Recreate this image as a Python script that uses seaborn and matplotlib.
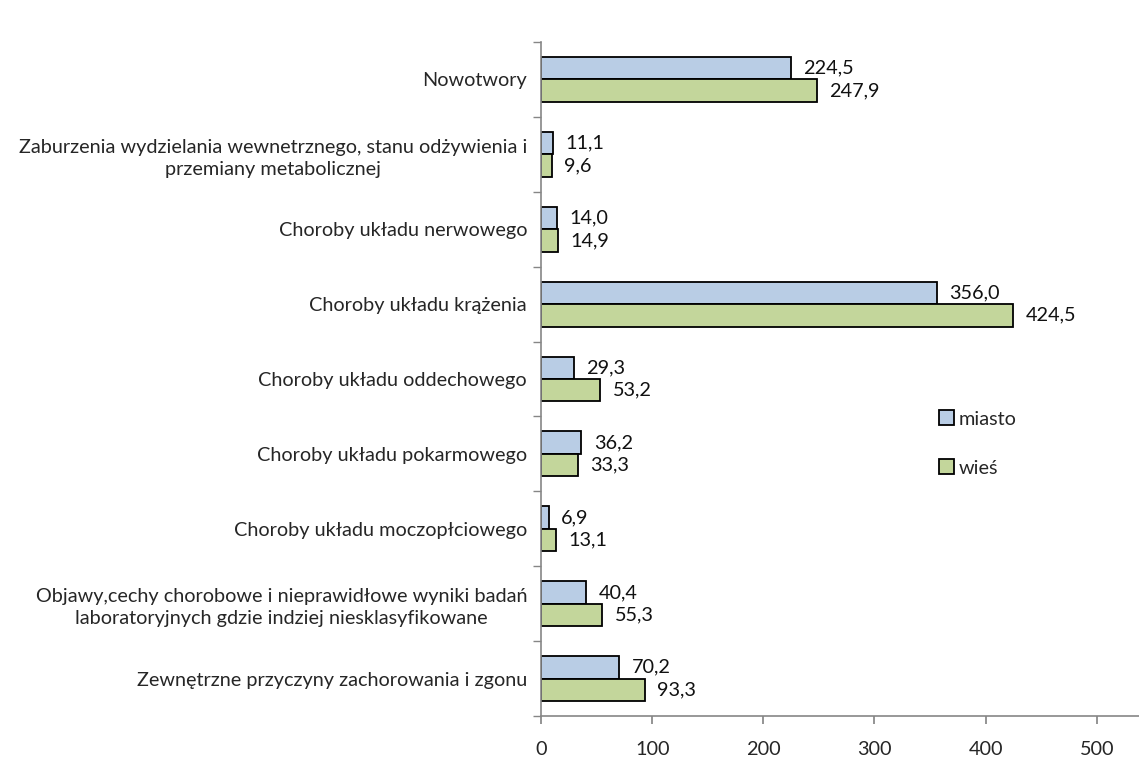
import matplotlib
matplotlib.use("Agg")
import matplotlib.pyplot as plt
import seaborn as sns
import pandas as pd

categories = [
    "Nowotwory",
    "Zaburzenia wydzielania wewnetrznego, stanu odżywienia i\nprzemiany metabolicznej",
    "Choroby układu nerwowego",
    "Choroby układu krążenia",
    "Choroby układu oddechowego",
    "Choroby układu pokarmowego",
    "Choroby układu moczopłciowego",
    "Objawy,cechy chorobowe i nieprawidłowe wyniki badań\nlaboratoryjnych gdzie indziej niesklasyfikowane",
    "Zewnętrzne przyczyny zachorowania i zgonu",
]
miasto = [224.5, 11.1, 14.0, 356.0, 29.3, 36.2, 6.9, 40.4, 70.2]
wies = [247.9, 9.6, 14.9, 424.5, 53.2, 33.3, 13.1, 55.3, 93.3]
series_names = ["miasto", "wieś"]
xticks = [0, 100, 200, 300, 400, 500]

sns.set_theme(style="white")
plt.rcParams['font.family'] = ['Lato', 'DejaVu Sans']
FS = 14.3

df = pd.DataFrame({
    "cat": categories * 2,
    "val": miasto + wies,
    "ser": [series_names[0]] * len(categories) + [series_names[1]] * len(categories),
})

fig = plt.figure(figsize=(11.39, 7.63), dpi=100)
ax = fig.add_axes([541/1139, 1 - 716/763, (1139-541)/1139, (716-42)/763])

sns.barplot(data=df, y="cat", x="val", hue="ser", orient="h", order=categories,
            hue_order=series_names, palette=["#B9CDE5", "#C3D69B"], width=0.6,
            saturation=1, edgecolor="black", linewidth=1.3, ax=ax, errorbar=None)

for cont in ax.containers:
    ax.bar_label(cont, labels=[f"{v:.1f}".replace(".", ",") for v in cont.datavalues],
                 padding=9, fontsize=FS, color="#111111")

ax.set_xlim(0, 538)
ax.set_ylim(len(categories) - 0.5, -0.5)
ax.set_xticks(xticks)
ax.set_xticklabels([str(t) for t in xticks], fontsize=FS)
ax.set_yticks([i for i in range(len(categories))])
ax.set_yticklabels(categories, fontsize=FS, multialignment="center", linespacing=1.35)
ax.tick_params(axis="y", length=0, pad=10)
ax.tick_params(axis="x", length=6, direction="out", color="#868686", pad=12, bottom=True)
ax.set_yticks([i - 0.5 for i in range(len(categories) + 1)], minor=True)
ax.tick_params(axis="y", which="minor", length=6, color="#868686", direction="out", left=True)
ax.set_xlabel("")
ax.set_ylabel("")
for s in ["top", "right"]:
    ax.spines[s].set_visible(False)
for s in ["left", "bottom"]:
    ax.spines[s].set_color("#868686")
    ax.spines[s].set_linewidth(1.2)

leg = ax.legend(loc="upper left", bbox_to_anchor=(0.635, 0.48), frameon=False,
                fontsize=FS, handlelength=0.75, handleheight=0.75, handletextpad=0.25,
                labelspacing=1.6)
for h in leg.legend_handles:
    h.set_edgecolor("black")
    h.set_linewidth(1.3)

fig.savefig("out.png", dpi=100)
